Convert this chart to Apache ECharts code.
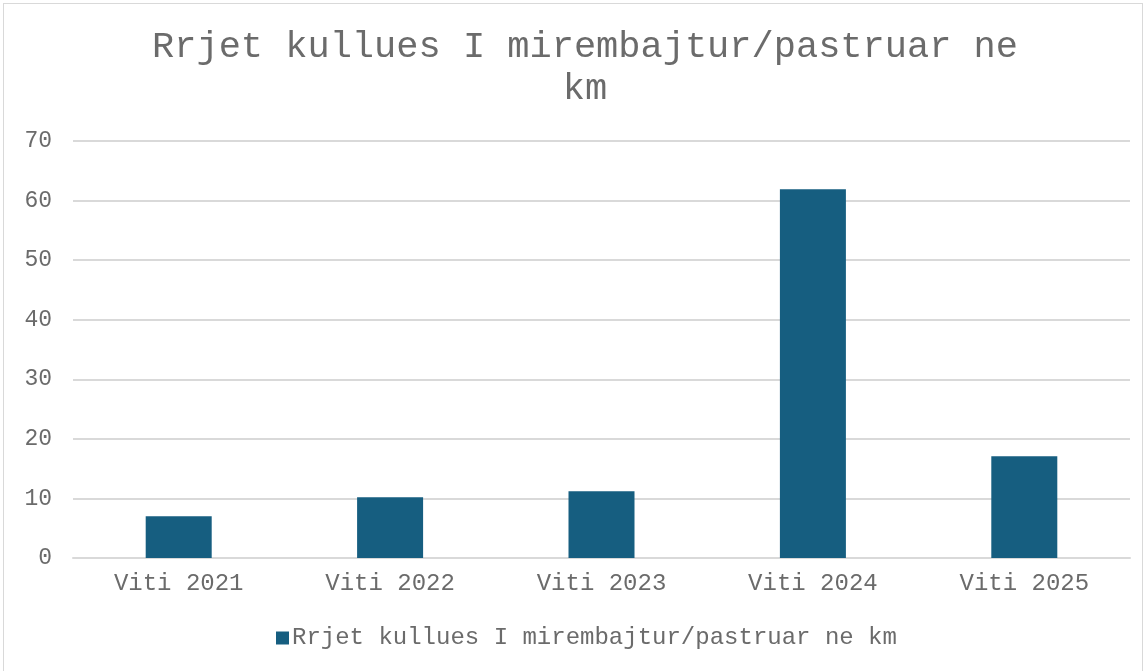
<!DOCTYPE html>
<html>
<head>
<meta charset="utf-8">
<script src="https://cdn.jsdelivr.net/npm/echarts@6/dist/echarts.min.js"></script>
<style>
	html, body { margin: 0; padding: 0; background: #fff; }
	#box { position: absolute; left: 3px; top: 3px; width: 1140px; height: 672px; border: 1px solid #d9d9d9; box-sizing: border-box; }
	#main { position: absolute; left: 0; top: 0; width: 1145px; height: 671px; }
</style>
</head>
<body>
<div id="box"></div>
<div id="main"></div>
<script>
// 数据
const categories = ['Viti 2021', 'Viti 2022', 'Viti 2023', 'Viti 2024', 'Viti 2025'];
const values = [7.0, 10.2, 11.2, 61.9, 17.1];
const seriesName = 'Rrjet kullues I mirembajtur/pastruar ne km';
const titleText = 'Rrjet kullues I mirembajtur/pastruar ne\nkm';

const font = '"Liberation Mono", "Courier New", monospace';
const textColor = '#6b6b6b';
const gridColor = '#d9d9d9';

const myChart = echarts.init(document.getElementById('main'));
myChart.setOption({
	animation: false,
	title: {
		text: titleText,
		left: 580,
		top: 21,
		textAlign: 'center',
		textStyle: {
			fontFamily: font,
			fontSize: 37,
			fontWeight: 'normal',
			color: textColor,
			lineHeight: 42,
		},
	},
	legend: {
		top: 621,
		left: 271,
		itemWidth: 13,
		itemHeight: 13,
		icon: 'rect',
		textStyle: {
			fontFamily: font,
			fontSize: 24,
			color: textColor,
			padding: [0, 0, 0, -2],
		},
		data: [seriesName],
	},
	grid: {
		left: 73,
		right: 15,
		top: 141,
		bottom: 113,
	},
	xAxis: {
		type: 'category',
		data: categories,
		axisTick: { show: false },
		axisLine: { lineStyle: { color: gridColor, width: 2 } },
		axisLabel: {
			fontFamily: font,
			fontSize: 24,
			color: textColor,
			margin: 14,
		},
	},
	yAxis: {
		type: 'value',
		min: 0,
		max: 70,
		interval: 10,
		axisLine: { show: false },
		axisTick: { show: false },
		splitLine: { lineStyle: { color: gridColor, width: 2 } },
		axisLabel: {
			fontFamily: font,
			fontSize: 23,
			color: textColor,
			margin: 21,
		},
	},
	series: [
		{
			name: seriesName,
			type: 'bar',
			data: values,
			barWidth: 66,
			itemStyle: { color: '#165e80' },
		},
	],
});
</script>
</body>
</html>
